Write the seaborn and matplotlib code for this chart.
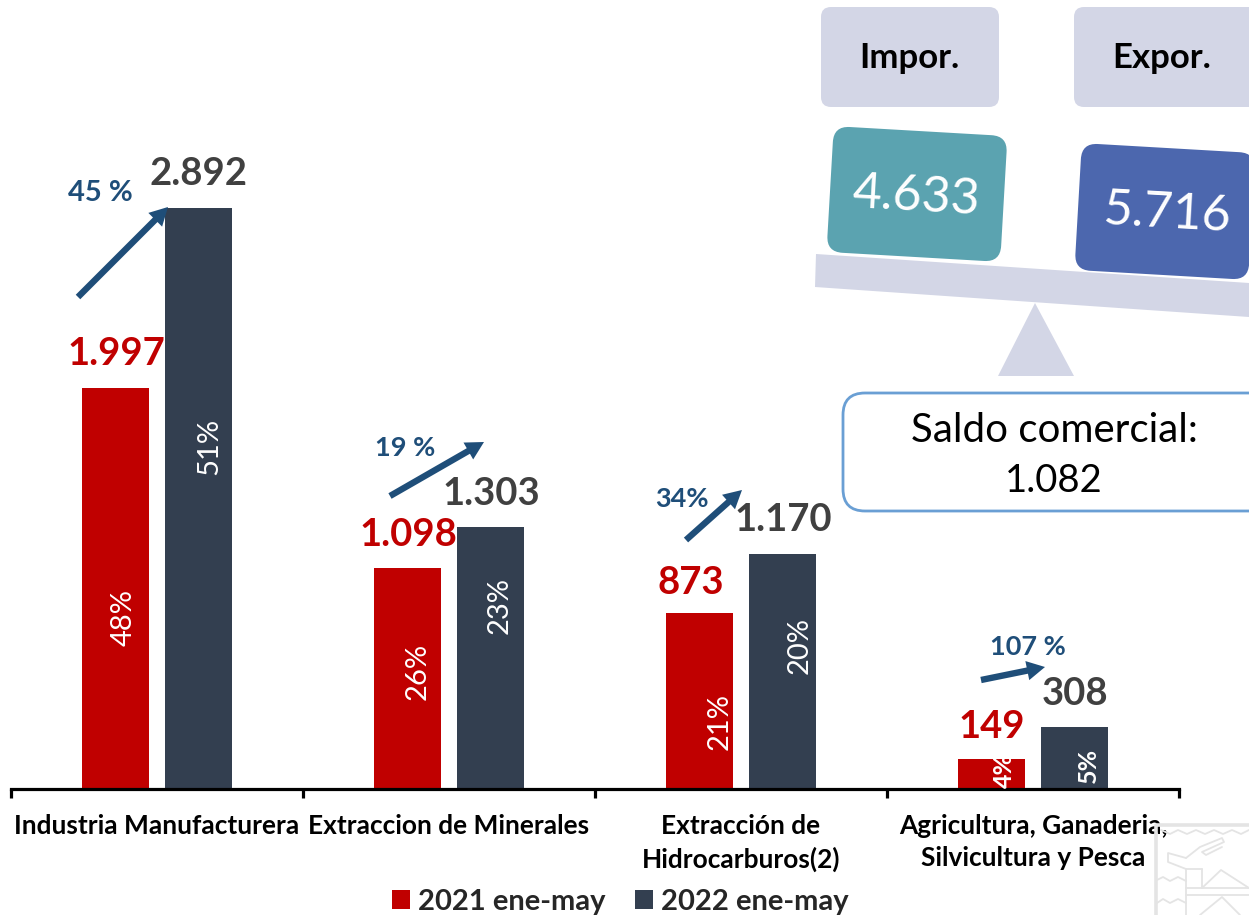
import matplotlib
matplotlib.use("Agg")
import matplotlib.pyplot as plt
from matplotlib.patches import FancyBboxPatch, FancyArrowPatch, Polygon
from matplotlib.transforms import Affine2D
import pandas as pd
import seaborn as sns

# values
sectors = ["Industria Manufacturera", "Extraccion de Minerales",
           "Extracción de\nHidrocarburos(2)", "Agricultura, Ganaderia,\nSilvicultura y Pesca"]
periods = ["2021 ene-may", "2022 ene-may"]
values_2021 = [1997, 1098, 873, 149]
values_2022 = [2892, 1303, 1170, 308]
labels_2021 = ["1.997", "1.098", "873", "149"]
labels_2022 = ["2.892", "1.303", "1.170", "308"]
shares_2021 = ["48%", "26%", "21%", "4%"]
shares_2022 = ["51%", "23%", "20%", "5%"]
growth = ["45 %", "19 %", "34%", "107 %"]

RED = "#C00000"
NAVY = "#333F50"
GREY = "#404040"
BLUE = "#1F4E79"
PALE = "#D3D6E6"
WM = "#E4E4E4"

sns.set_theme(style="white")
plt.rcParams["font.family"] = ["Lato", "DejaVu Sans"]

df = pd.DataFrame({
    "sector": sectors * 2,
    "period": [periods[0]] * 4 + [periods[1]] * 4,
    "value": values_2021 + values_2022,
})

fig = plt.figure(figsize=(12.49, 9.15), dpi=100)
ax = fig.add_axes([11 / 1249, 1 - 788.5 / 915, 1168 / 1249, 788.5 / 915])
sns.barplot(data=df, x="sector", y="value", hue="period", palette=[RED, NAVY],
            width=0.5685, gap=0.2, saturation=1, linewidth=0, ax=ax)
ax.set_xlim(-0.5, 3.5)
ax.set_ylim(0, 3930)
ax.set_xlabel("")
ax.set_ylabel("")
ax.set_yticks([])
ax.patch.set_alpha(0)
for side in ["top", "left", "right"]:
    ax.spines[side].set_visible(False)
ax.spines["bottom"].set_color("black")
ax.spines["bottom"].set_linewidth(2.3)
ax.set_xticks(range(4), sectors)
ax.set_xticks([-0.5, 0.5, 1.5, 2.5, 3.5], minor=True)
ax.tick_params(axis="x", which="major", length=0, pad=18, labelsize=18.9, labelcolor="black")
ax.tick_params(axis="x", which="minor", length=6.5, width=2.3, color="black", bottom=True)
for t in ax.get_xticklabels():
    t.set_fontweight("bold")
    t.set_linespacing(1.45)

handles, names = ax.get_legend_handles_labels()
ax.legend(handles, names, loc="center", bbox_to_anchor=(620.5 / 1249, 1 - 902 / 915),
          bbox_transform=fig.transFigure, ncol=2, frameon=False, handlelength=0.62,
          handleheight=0.62, handletextpad=0.28, columnspacing=1.0, borderpad=0,
          prop={"size": 21, "weight": "bold"})

# overlay in pixels of the picture
deco = fig.add_axes([0, 0, 1, 1], zorder=5)
deco.set_xlim(0, 1249)
deco.set_ylim(915, 0)
deco.axis("off")


def label(x, y, s, size, color, weight="bold", rot=0):
    return deco.text(x, y, s, fontsize=size, color=color, fontweight=weight, rotation=rot,
                     ha="center", va="center", rotation_mode="anchor")


# bar value labels
red_xy = [(116, 354), (408, 535), (691, 583), (992, 727)]
grey_xy = [(199, 174), (491, 494), (783, 520), (1075, 694)]
for (x, y), s in zip(red_xy, labels_2021):
    label(x, y, s, 27.5, RED)
for (x, y), s in zip(grey_xy, labels_2022):
    label(x, y, s, 27.5, GREY)

# shares inside the bars, cut by their bar
share_xy_2021 = [(124, 617), (418, 671), (720, 722), (1004, 770)]
share_xy_2022 = [(209, 446), (500, 606), (800, 646), (1088, 765)]
for bars, xys, texts in [(ax.containers[0], share_xy_2021, shares_2021),
                         (ax.containers[1], share_xy_2022, shares_2022)]:
    for i in range(4):
        small = i == 3
        t = label(xys[i][0], xys[i][1], texts[i], 18 if small else 21, "white",
                  weight="bold" if small else "normal", rot=90)
        t.set_clip_path(bars[i])

# growth arrows
arrow_xy = [((78, 297), (168, 207)), ((390, 496), (484, 442)),
            ((686, 540), (742, 490)), ((981, 680), (1045, 667))]
growth_xy = [(100, 193), (405, 448), (682, 499), (1028, 647)]
growth_size = [21, 19.5, 19.5, 19.5]
for (a, b), (x, y), s, size in zip(arrow_xy, growth_xy, growth, growth_size):
    deco.add_patch(FancyArrowPatch(a, b, arrowstyle="simple,head_length=13,head_width=14,tail_width=4.6",
                                   mutation_scale=1, color=BLUE, lw=0, shrinkA=0, shrinkB=0))
    label(x, y, s, size, BLUE)


# balance on the right
def rbox(x0, y0, w, h, color, angle=0, r=14, **kw):
    box = FancyBboxPatch((x0 + r, y0 + r), w - 2 * r, h - 2 * r, boxstyle=f"round,pad={r},rounding_size={r}",
                         fc=color, lw=kw.get("lw", 0), ec=kw.get("ec", color))
    tr = Affine2D().rotate_deg_around(x0 + w / 2, y0 + h / 2, angle) + deco.transData
    box.set_transform(tr)
    box.set_clip_on(False)
    deco.add_patch(box)


rbox(821, 7, 178, 100, PALE, r=10)
rbox(1074, 7, 190, 100, PALE, r=10)
label(909.5, 58, "Impor.", 25, "black")
label(1162, 58, "Expor.", 25, "black")
deco.add_patch(Polygon([(816, 254), (1249, 283), (1249, 317), (815, 287)], fc=PALE, lw=0))
deco.add_patch(Polygon([(1035, 303), (998, 376), (1074, 376)], fc=PALE, lw=0))
rbox(830, 131, 174, 126, "#5BA3B0", angle=3.3, r=16)
rbox(1078, 148, 174, 127, "#4C67AE", angle=3.3, r=16)
label(916, 197, "4.633", 36, "white", weight="normal", rot=-3.3)
label(1167, 214, "5.716", 36, "white", weight="normal", rot=-3.3)
rbox(843, 393, 440, 118, "white", r=22, lw=2, ec="#6A9FD4")
label(1054, 431, "Saldo comercial:", 29, "black", weight="normal")
label(1054, 481, "1.082", 27.5, "black", weight="normal")

# pale emblem in the corner
wm_lines = [
    [(1156, 915), (1156, 825), (1249, 825)],
    [(1161, 830), (1170, 834), (1178, 830), (1187, 834), (1196, 830), (1205, 834), (1214, 830),
     (1223, 834), (1232, 830), (1241, 834), (1249, 830)],
    [(1186, 858), (1168, 853), (1168, 862), (1186, 869), (1186, 915)],
    [(1186, 858), (1200, 847), (1222, 838), (1224, 842), (1202, 852), (1206, 855), (1222, 847)],
    [(1202, 869), (1202, 888)],
    [(1186, 869), (1202, 869)],
    [(1157, 880), (1163, 877), (1170, 881), (1178, 877), (1186, 881)],
    [(1157, 903), (1163, 899), (1170, 903), (1178, 899), (1186, 903)],
    [(1186, 888), (1249, 888)],
    [(1186, 895), (1249, 895)],
    [(1202, 888), (1221, 870), (1249, 888)],
    [(1200, 915), (1222, 897), (1240, 915)],
]
for pts in wm_lines:
    xs, ys = zip(*pts)
    deco.plot(xs, ys, color=WM, lw=1.3 if pts[0][0] != 1156 else 2.6, zorder=0)
deco.set_xlim(0, 1249)
deco.set_ylim(915, 0)

fig.savefig("out.png", dpi=100)
